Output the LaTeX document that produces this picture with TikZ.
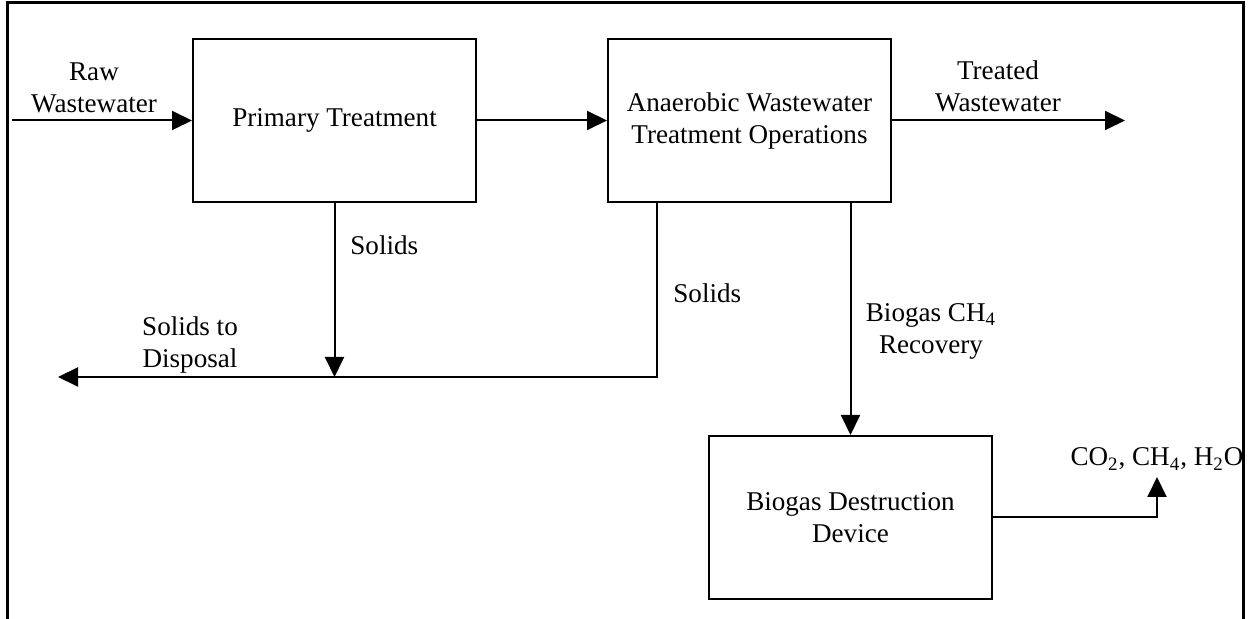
\documentclass[tikz,border=0pt]{standalone}
\usepackage{fontspec}
\setmainfont{Liberation Serif}
\usetikzlibrary{arrows.meta}

\tikzset{
  unit/.style={draw, line width=1pt, minimum width=141.5pt, minimum height=81.5pt, align=center, inner sep=0pt},
  flow/.style={line width=1pt, -{Triangle[length=10pt,width=9.5pt]}},
  lbl/.style={align=center, inner sep=0pt}
}

\begin{document}
\begin{tikzpicture}[x=0.5pt,y=-0.5pt,font=\fontsize{13.55}{16}\selectfont]
\useasboundingbox (0,0) rectangle (1248,619);
% frame, open at the bottom
\draw[line width=1.5pt] (7,619) -- (7,3) -- (1243,3) -- (1243,619);

% units
\node[unit] (prim) at (334.5,120.5) {Primary Treatment};
\node[unit] (anae) at (749.5,120.5) {Anaerobic Wastewater\\Treatment Operations};
\node[unit] (dest) at (850.5,517.5) {Biogas Destruction\\Device};

% free ends
\coordinate (raw) at (12,120.5);
\coordinate (treated) at (1125,120.5);
\coordinate (disp) at (58,377);
\coordinate (gas) at (1157,477);

% flows
\draw[flow] (raw) -- (prim.west);
\draw[flow] (prim.east) -- (anae.west);
\draw[flow] (anae.east) -- (treated);
\draw[flow] (prim.south) -- (prim.south |- disp);
\draw[flow] ([xshift=-46.25pt]anae.south) |- (disp);
\draw[flow] (dest.north |- anae.south) -- (dest.north);
\draw[flow] (dest.east) -| (gas);

% labels
\node[lbl] (rawlbl) at (94,88) {Raw\\Wastewater};
\node[lbl] (trlbl) at (998,86) {Treated\\Wastewater};
\node[lbl, anchor=base west] (sol1) at (350,255) {Solids};
\node[lbl, anchor=base west] (sol2) at (673,303) {Solids};
\node[lbl] (displbl) at (190,345) {Solids to\\Disposal};
\node[lbl] (bglbl) at (931,331) {Biogas CH\textsubscript{4}\\Recovery};
\node[lbl, anchor=base] (co2) at (1157,466) {CO\textsubscript{2}, CH\textsubscript{4}, H\textsubscript{2}O};
\end{tikzpicture}
\end{document}
